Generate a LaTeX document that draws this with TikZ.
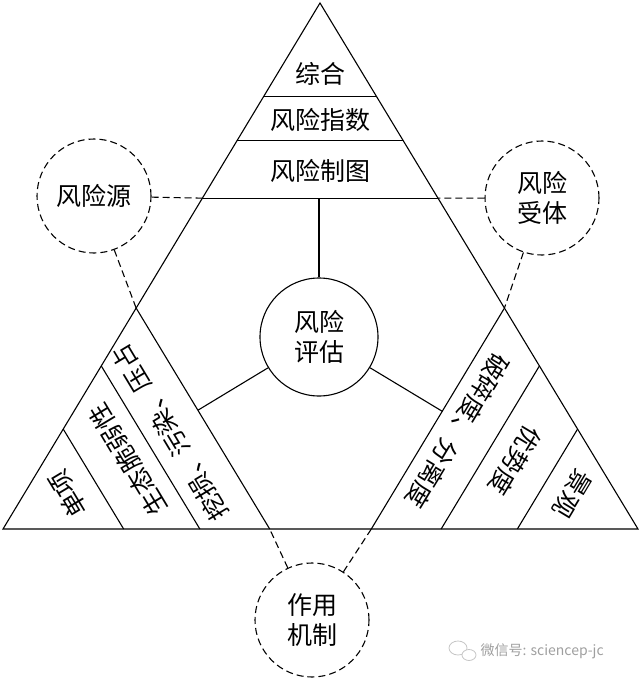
\documentclass[tikz,border=0pt]{standalone}
\usepackage{fontspec}
\setmainfont{Noto Sans CJK SC}
\usetikzlibrary{calc}

\begin{document}
\begin{tikzpicture}[x=1pt, y=-1pt, line width=1.1pt,
    lbl/.style={font=\fontsize{25}{30}\selectfont, align=center, inner sep=0pt},
    hub/.style={circle, draw, minimum size=118pt, inner sep=0pt, font=\fontsize{25}{30}\selectfont, align=center},
    ring/.style={circle, draw, dash pattern=on 7pt off 4pt, minimum size=114pt, inner sep=0pt, font=\fontsize{25}{30}\selectfont, align=center},
    link/.style={dash pattern=on 7pt off 4pt}]

    \useasboundingbox (0,0) rectangle (640,680);

    % Outer triangle
    \coordinate (A) at (320,3);
    \coordinate (B) at (3,529);
    \coordinate (C) at (638,529);
    \draw (A) -- (B) -- (C) -- cycle;

    % Top layers
    \foreach \f/\n in {0.823/1, 0.738/2, 0.629/3} {
        \coordinate (tl\n) at ($(B)!\f!(A)$);
        \coordinate (tr\n) at ($(C)!\f!(A)$);
        \draw (tl\n) -- (tr\n);
    }

    % Corner strips
    \foreach \f/\n in {0.19/1, 0.31/2, 0.42/3} {
        \coordinate (lb\n) at ($(B)!\f!(C)$);
        \coordinate (le\n) at ($(B)!\f!(A)$);
        \coordinate (rb\n) at ($(C)!\f!(B)$);
        \coordinate (re\n) at ($(C)!\f!(A)$);
        \draw (lb\n) -- (le\n);
        \draw (rb\n) -- (re\n);
    }

    % Circles
    \node[hub] (eval) at (319,337) {风险\\评估};
    \node[ring] (src) at (94,196) {风险源};
    \node[ring] (recv) at (542,198) {风险\\受体};
    \node[ring] (mech) at (312,620) {作用\\机制};

    % Spokes
    \draw (eval) -- ($(tl3)!(eval)!(tr3)$);
    \draw (eval) -- ($(lb3)!(eval)!(le3)$);
    \draw (eval) -- ($(rb3)!(eval)!(re3)$);

    % Dashed links
    \draw[link] (src) -- (tl3);
    \draw[link] (src) -- (le3);
    \draw[link] (recv) -- (tr3);
    \draw[link] (recv) -- (re3);
    \draw[link] (mech) -- (lb3);
    \draw[link] (mech) -- (rb3);

    % Top labels
    \node[lbl] (synth) at (320,74) {综合};
    \node[lbl] (index) at (320,120) {风险指数};
    \node[lbl] (chart) at (320,171) {风险制图};

    % Left corner labels
    \node[lbl, rotate=121] (single) at (68,494) {单项};
    \node[lbl, rotate=121] (fragile) at (128,460) {生态脆弱性};
    \node[lbl, rotate=121] (press) at (170,433) {挖损、污染、压占};

    % Right corner labels
    \node[lbl, rotate=-121] (split) at (458,431) {破碎度、分离度};
    \node[lbl, rotate=-121] (domin) at (515,461) {优势度};
    \node[lbl, rotate=-121] (scape) at (572,494) {景观};

    % Watermark
    \draw[gray!45, line width=0.8pt] (458,648) ellipse (9 and 7);
    \draw[gray!45, line width=0.8pt, fill=white] (469,655) ellipse (7 and 5.5);
    \node[font=\fontsize{14}{16}\selectfont, text=gray!75, anchor=west, inner sep=0pt] (mark) at (480,651) {微信号: sciencep-jc};

\end{tikzpicture}
\end{document}
